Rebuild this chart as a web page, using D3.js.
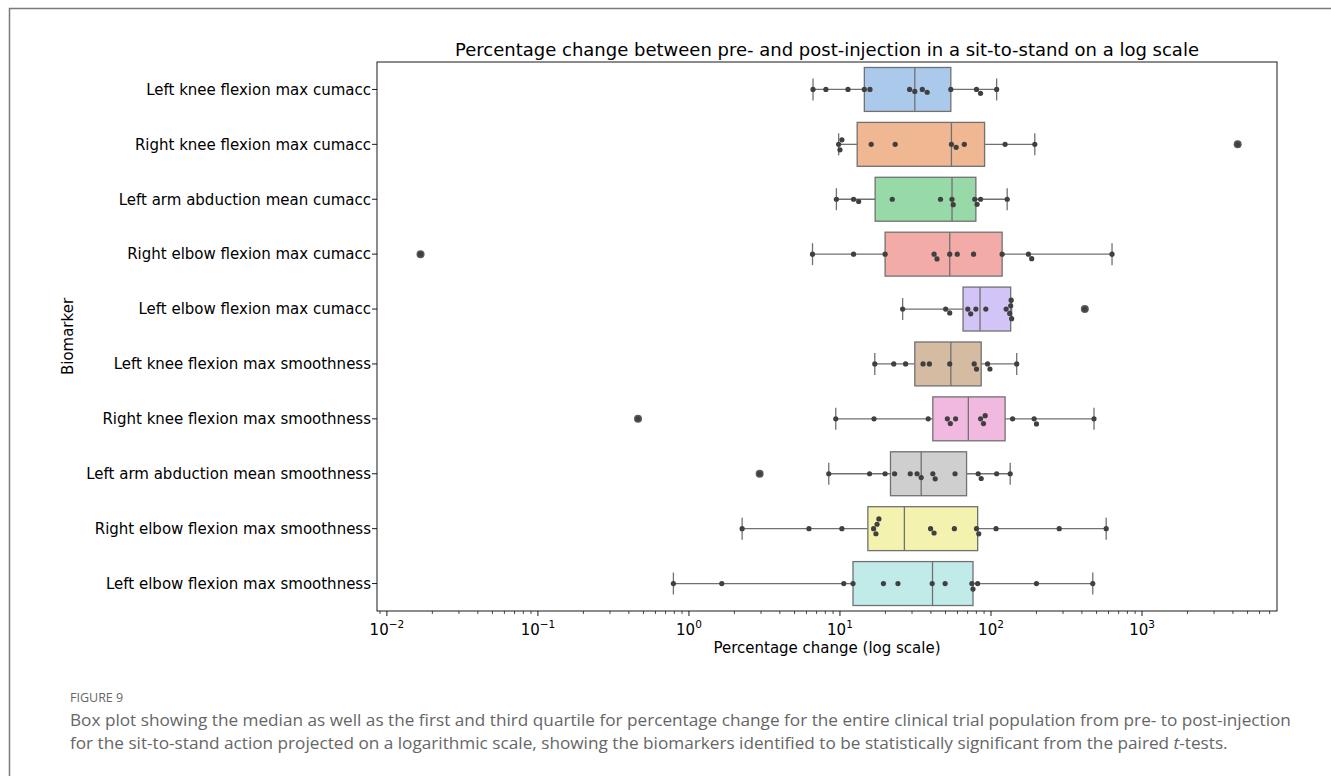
<!DOCTYPE html>
<html>
<head>
<meta charset="utf-8">
<script src="https://cdn.jsdelivr.net/npm/d3@7"></script>
<style>
  html, body { margin: 0; padding: 0; background: #fff; }
  svg { display: block; }
</style>
</head>
<body>
<svg id="chart" width="1331" height="776"></svg>
<script>
// biomarkers, top to bottom
const biomarkers = [
  'Left knee flexion max cumacc',
  'Right knee flexion max cumacc',
  'Left arm abduction mean cumacc',
  'Right elbow flexion max cumacc',
  'Left elbow flexion max cumacc',
  'Left knee flexion max smoothness',
  'Right knee flexion max smoothness',
  'Left arm abduction mean smoothness',
  'Right elbow flexion max smoothness',
  'Left elbow flexion max smoothness'
];

// box statistics (percentage change)
const q1Values     = [14.5, 13.0, 17.1, 19.9, 65.3, 31.3, 41.2, 21.6, 15.3, 12.2];
const medianValues = [31.3, 54.7, 55.2, 53.3, 84.6, 54.2, 70.8, 34.5, 26.7, 41.0];
const q3Values     = [54.2, 90.7, 79.4, 118.5, 135, 86.1, 124, 68.9, 81.6, 76.0];
const whiskerLow   = [6.63, 9.8, 9.47, 6.58, 26.0, 17.0, 9.38, 8.43, 2.25, 0.789];
const whiskerHigh  = [109, 195, 128, 633, 137, 148, 481, 134, 579, 472];

// individual patients per biomarker
const patientValues = [
  [6.63, 8.07, 11.3, 14.5, 15.8, 28.9, 31.3, 35.1, 37.8, 54.2, 80.2, 85.3, 109],
  [9.8, 10.0, 10.3, 16.1, 23.2, 54.7, 58.8, 66.6, 124, 195, 4300],
  [9.47, 12.3, 13.3, 22.2, 46.3, 55.2, 56.2, 78.1, 80.9, 85.3, 128],
  [0.0167, 6.58, 12.3, 19.9, 42.0, 43.9, 53.3, 59.8, 76.7, 118.5, 177, 186, 633],
  [26.0, 50.1, 53.3, 70.2, 73.4, 79.4, 92.4, 126, 133, 135, 136, 137, 418],
  [17.0, 22.7, 27.2, 35.5, 39.1, 53.3, 77.4, 80.2, 94.9, 98.4, 148],
  [0.46, 9.38, 16.8, 38.4, 51.4, 53.8, 58.3, 85.3, 89.2, 91.5, 139, 193, 200, 481],
  [2.94, 8.43, 15.7, 19.9, 23.0, 29.2, 32.4, 34.5, 41.2, 42.7, 57.8, 82.3, 86.1, 109, 134],
  [2.25, 6.23, 10.3, 16.7, 17.3, 17.6, 18.1, 39.8, 42.0, 57.2, 80.2, 83.0, 108, 283, 579],
  [0.789, 1.65, 10.6, 12.2, 19.4, 24.2, 40.8, 49.7, 74.7, 76.0, 81.6, 200, 472]
];

const xTickExponents = [-2, -1, 0, 1, 2, 3];
const xDomain = [0.0086, 7830];

// seaborn "pastel"
const palette = ['#a1c9f4', '#ffb482', '#8de5a1', '#ff9f9b', '#d0bbff',
                 '#debb9b', '#fab0e4', '#cfcfcf', '#fffea3', '#b9f2f0'];

const chartFont = '"DejaVu Sans", sans-serif';
const lineGray = '#717171';
const dotColor = '#404040';

const svg = d3.select('#chart');

// page frame
svg.append('path')
  .attr('d', 'M9.5,776 L9.5,8.5 L1331,8.5')
  .attr('fill', 'none')
  .attr('stroke', '#7a7a7a')
  .attr('stroke-width', 1.5);

const plot = { left: 377, right: 1277, top: 62, bottom: 611 };

const x = d3.scaleLog().domain(xDomain).range([plot.left, plot.right]);
const y = d3.scaleBand().domain(biomarkers).range([plot.top, plot.bottom]).padding(0);
const boxH = y.bandwidth() * 0.8;
const capH = boxH * 0.5;

function desaturate(hex, amount) {
  const c = d3.hsl(hex);
  c.s *= amount;
  return c.formatHex();
}

const g = svg.append('g');

// minor + major x ticks
const minorTicks = [];
for (let e = -3; e <= 3; e++) {
  for (let m = 2; m <= 9; m++) {
    const v = m * Math.pow(10, e);
    if (v > xDomain[0] && v < xDomain[1]) minorTicks.push(v);
  }
}
g.append('g').selectAll('line')
  .data(minorTicks)
  .join('line')
  .attr('x1', d => x(d)).attr('x2', d => x(d))
  .attr('y1', plot.bottom).attr('y2', plot.bottom + 3)
  .attr('stroke', '#000').attr('stroke-width', 0.7);

const majorTick = g.append('g').selectAll('g')
  .data(xTickExponents)
  .join('g')
  .attr('transform', d => `translate(${x(Math.pow(10, d))},${plot.bottom})`);

majorTick.append('line')
  .attr('y2', 5)
  .attr('stroke', '#000').attr('stroke-width', 0.9);

const tickText = majorTick.append('text')
  .attr('y', 24)
  .attr('text-anchor', 'middle')
  .attr('font-family', chartFont)
  .attr('font-size', 15)
  .attr('fill', '#000');
tickText.append('tspan').text('10');
tickText.append('tspan')
  .attr('dy', -7)
  .attr('font-size', 10.5)
  .text(d => String(d).replace('-', '\u2212'));

// y ticks and labels
const yTick = g.append('g').selectAll('g')
  .data(biomarkers)
  .join('g')
  .attr('transform', d => `translate(${plot.left},${y(d) + y.bandwidth() / 2})`);

yTick.append('line')
  .attr('x2', -5)
  .attr('stroke', '#000').attr('stroke-width', 0.9);

yTick.append('text')
  .attr('x', -6)
  .attr('dy', '0.35em')
  .attr('text-anchor', 'end')
  .attr('font-family', chartFont)
  .attr('font-size', 15)
  .attr('fill', '#000')
  .text(d => d);

// boxes
const rows = biomarkers.map((name, i) => ({
  name,
  color: desaturate(palette[i], 0.75),
  q1: q1Values[i],
  median: medianValues[i],
  q3: q3Values[i],
  lo: whiskerLow[i],
  hi: whiskerHigh[i],
  values: patientValues[i]
}));

const box = g.append('g').selectAll('g')
  .data(rows)
  .join('g')
  .attr('transform', d => `translate(0,${y(d.name) + y.bandwidth() / 2})`);

// whiskers
box.append('line')
  .attr('x1', d => x(d.lo)).attr('x2', d => x(d.q1))
  .attr('stroke', lineGray).attr('stroke-width', 1.3);
box.append('line')
  .attr('x1', d => x(d.q3)).attr('x2', d => x(d.hi))
  .attr('stroke', lineGray).attr('stroke-width', 1.3);
box.append('line')
  .attr('x1', d => x(d.lo)).attr('x2', d => x(d.lo))
  .attr('y1', -capH / 2).attr('y2', capH / 2)
  .attr('stroke', lineGray).attr('stroke-width', 1.3);
box.append('line')
  .attr('x1', d => x(d.hi)).attr('x2', d => x(d.hi))
  .attr('y1', -capH / 2).attr('y2', capH / 2)
  .attr('stroke', lineGray).attr('stroke-width', 1.3);

box.append('rect')
  .attr('x', d => x(d.q1))
  .attr('y', -boxH / 2)
  .attr('width', d => x(d.q3) - x(d.q1))
  .attr('height', boxH)
  .attr('fill', d => d.color)
  .attr('stroke', lineGray)
  .attr('stroke-width', 1.3);

box.append('line')
  .attr('x1', d => x(d.median)).attr('x2', d => x(d.median))
  .attr('y1', -boxH / 2).attr('y2', boxH / 2)
  .attr('stroke', lineGray).attr('stroke-width', 1.3);

// fliers
box.each(function (d) {
  const fliers = d.values.filter(v => v < d.lo || v > d.hi);
  d3.select(this).append('g').selectAll('circle')
    .data(fliers)
    .join('circle')
    .attr('cx', v => x(v))
    .attr('r', 4)
    .attr('fill', '#5a5a5a');
});

// swarm of patient points
const dotR = 2.6;
function swarm(values) {
  const minDist = dotR * 2 + 0.4;
  const placed = [];
  values.slice().sort((a, b) => a - b).forEach(v => {
    const px = x(v);
    const near = placed.filter(p => Math.abs(p.x - px) < minDist);
    const candidates = [0];
    near.forEach(p => {
      const dy = Math.sqrt(minDist * minDist - (p.x - px) * (p.x - px));
      candidates.push(p.y + dy, p.y - dy);
    });
    candidates.sort((a, b) => Math.abs(a) - Math.abs(b) || b - a);
    const ok = candidates.find(c => near.every(p => Math.hypot(p.x - px, p.y - c) >= minDist - 0.01));
    placed.push({ x: px, y: ok });
  });
  return placed;
}

box.each(function (d) {
  d3.select(this).append('g').selectAll('circle')
    .data(swarm(d.values))
    .join('circle')
    .attr('cx', p => p.x)
    .attr('cy', p => p.y)
    .attr('r', dotR)
    .attr('fill', dotColor);
});

// axes frame
g.append('rect')
  .attr('x', plot.left).attr('y', plot.top)
  .attr('width', plot.right - plot.left)
  .attr('height', plot.bottom - plot.top)
  .attr('fill', 'none')
  .attr('stroke', '#000')
  .attr('stroke-width', 0.9);

// titles
svg.append('text')
  .attr('x', 827)
  .attr('y', 56)
  .attr('text-anchor', 'middle')
  .attr('font-family', chartFont)
  .attr('font-size', 18)
  .attr('fill', '#000')
  .text('Percentage change between pre- and post-injection in a sit-to-stand on a log scale');

svg.append('text')
  .attr('x', 827)
  .attr('y', 653)
  .attr('text-anchor', 'middle')
  .attr('font-family', chartFont)
  .attr('font-size', 15)
  .attr('fill', '#000')
  .text('Percentage change (log scale)');

svg.append('text')
  .attr('transform', `translate(73,${(plot.top + plot.bottom) / 2}) rotate(-90)`)
  .attr('text-anchor', 'middle')
  .attr('font-family', chartFont)
  .attr('font-size', 15)
  .attr('fill', '#000')
  .text('Biomarker');

// caption
const captionFont = '"Open Sans", "Noto Sans", sans-serif';
svg.append('text')
  .attr('x', 70).attr('y', 702)
  .attr('font-family', captionFont)
  .attr('font-size', 12.5)
  .attr('fill', '#666')
  .text('FIGURE 9');

const captionLines = [
  'Box plot showing the median as well as the first and third quartile for percentage change for the entire clinical trial population from pre- to post-injection',
  'for the sit-to-stand action projected on a logarithmic scale, showing the biomarkers identified to be statistically significant from the paired '
];
svg.append('text')
  .attr('x', 70).attr('y', 726)
  .attr('font-family', captionFont)
  .attr('font-size', 17.2)
  .attr('fill', '#666')
  .text(captionLines[0]);
const cap2 = svg.append('text')
  .attr('x', 70).attr('y', 749)
  .attr('font-family', captionFont)
  .attr('font-size', 17.2)
  .attr('fill', '#666');
cap2.append('tspan').text(captionLines[1]);
cap2.append('tspan').attr('font-style', 'italic').text('t');
cap2.append('tspan').text('-tests.');
</script>
</body>
</html>
